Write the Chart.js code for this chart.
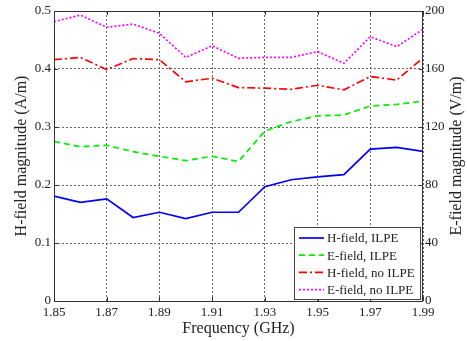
<!DOCTYPE html>
<html>
<head>
<meta charset="utf-8">
<script src="https://cdn.jsdelivr.net/npm/chart.js@4/dist/chart.umd.min.js"></script>
<style>
html,body{margin:0;padding:0;background:#fff;}
#wrap{width:467px;height:341px;position:relative;}
</style>
</head>
<body>
<div id="wrap"><canvas id="c" width="467" height="341"></canvas></div>
<script>
const freqs = [1.85,1.86,1.87,1.88,1.89,1.90,1.91,1.92,1.93,1.94,1.95,1.96,1.97,1.98,1.99];
const hIlpe = [0.181,0.170,0.176,0.144,0.153,0.142,0.153,0.153,0.197,0.209,0.214,0.218,0.262,0.265,0.258];
const eIlpe = [110,106.4,107.4,103,99.8,96.8,99.8,96.2,117.2,123.7,127.6,128.3,134.5,135.6,137.9];
const hNoIlpe = [0.416,0.420,0.399,0.418,0.416,0.378,0.384,0.368,0.367,0.365,0.372,0.364,0.387,0.381,0.419];
const eNoIlpe = [192.6,197.2,188.8,191,184.6,168,176,167.4,168,168,172,163.9,182.3,175.4,187.4];
const xTicks = [1.85,1.87,1.89,1.91,1.93,1.95,1.97,1.99];
const leftTicks = [0,0.1,0.2,0.3,0.4,0.5];
const rightTicks = [0,40,80,120,160,200];
const labels = ['H-field, ILPE','E-field, ILPE','H-field, no ILPE','E-field, no ILPE'];
const rightTitle = 'E-field magnitude (V/m)';

const pts = (ys) => freqs.map((f,i)=>({x:f,y:ys[i]}));
const FONT = 'Liberation Serif';
const TXT = '#222';

const styles = [
  {color:'#0000ff', dash:[], axis:'yL'},
  {color:'#00ee00', dash:[6,4], axis:'yR'},
  {color:'#ff0000', dash:[8,3,2,3], axis:'yL'},
  {color:'#ff00ff', dash:[2,2], axis:'yR'}
];
const series = [hIlpe,eIlpe,hNoIlpe,eNoIlpe];

const datasets = series.map((s,i)=>({
  label: labels[i],
  data: pts(s),
  borderColor: styles[i].color,
  backgroundColor: styles[i].color,
  borderDash: styles[i].dash,
  borderWidth: 1.7,
  pointRadius: 0,
  tension: 0,
  fill: false,
  yAxisID: styles[i].axis
}));

const framePlugin = {
  id:'frame',
  beforeDraw(chart){
    const ctx=chart.ctx; ctx.save(); ctx.fillStyle='#fff'; ctx.fillRect(0,0,chart.width,chart.height); ctx.restore();
  },
  afterDatasetsDraw(chart){
    const {ctx, chartArea:a} = chart;
    ctx.save();
    ctx.strokeStyle='#333'; ctx.lineWidth=1;
    ctx.strokeRect(a.left+0.5,a.top+0.5,a.right-a.left-1,a.bottom-a.top);
    const xs=chart.scales.x, yl=chart.scales.yL;
    ctx.beginPath();
    xTicks.forEach(t=>{const px=Math.round(xs.getPixelForValue(t))+0.5; ctx.moveTo(px,a.bottom); ctx.lineTo(px,a.bottom-4); ctx.moveTo(px,a.top); ctx.lineTo(px,a.top+4);});
    leftTicks.forEach(t=>{const py=Math.round(yl.getPixelForValue(t))+0.5; ctx.moveTo(a.left,py); ctx.lineTo(a.left+4,py); ctx.moveTo(a.right,py); ctx.lineTo(a.right-4,py);});
    ctx.stroke();
    // right axis title, reading bottom-to-top
    ctx.save();
    ctx.translate(457,(a.top+a.bottom)/2);
    ctx.rotate(-Math.PI/2);
    ctx.font='16px "'+FONT+'"'; ctx.fillStyle=TXT; ctx.textAlign='center'; ctx.textBaseline='middle';
    ctx.fillText(rightTitle,0,0);
    ctx.restore();
    // legend
    const w=126,h=72;
    const x0=a.right-3-w, y0=a.bottom-2-h;
    ctx.fillStyle='#fff'; ctx.fillRect(x0,y0,w,h);
    ctx.strokeStyle='#444'; ctx.strokeRect(x0+0.5,y0+0.5,w,h);
    ctx.font='13px "'+FONT+'"'; ctx.textBaseline='middle'; ctx.fillStyle=TXT;
    labels.forEach((lab,i)=>{
      const y=y0+11+i*17.2;
      ctx.beginPath(); ctx.setLineDash(styles[i].dash); ctx.strokeStyle=styles[i].color; ctx.lineWidth=1.7;
      ctx.moveTo(x0+5,y); ctx.lineTo(x0+30,y); ctx.stroke();
      ctx.setLineDash([]);
      ctx.fillStyle=TXT; ctx.fillText(lab,x0+33,y+1);
    });
    ctx.restore();
  }
};

new Chart(document.getElementById('c'),{
  type:'line',
  data:{datasets},
  plugins:[framePlugin],
  options:{
    responsive:false,
    animation:false,
    layout:{padding:{top:11,left:0,right:0,bottom:0}},
    plugins:{legend:{display:false},tooltip:{enabled:false}},
    scales:{
      x:{
        type:'linear', min:1.85, max:1.99,
        afterBuildTicks(s){ s.ticks = xTicks.map(v=>({value:v})); },
        afterFit(s){ s.height=40; },
        ticks:{color:TXT, font:{family:FONT,size:13}, padding:4, maxRotation:0, callback:v=>v.toFixed(2)},
        grid:{color:'#666', lineWidth:1, drawTicks:false},
        border:{display:false, dash:[2,2]},
        title:{display:true, text:'Frequency (GHz)', color:TXT, font:{family:FONT,size:16}, padding:{top:0,bottom:3}}
      },
      yL:{
        type:'linear', position:'left', min:0, max:0.5,
        afterBuildTicks(s){ s.ticks = leftTicks.map(v=>({value:v})); },
        afterFit(s){ s.width=54; },
        ticks:{color:TXT, font:{family:FONT,size:13}, padding:3, callback:v=>String(v)},
        grid:{color:'#666', lineWidth:1, drawTicks:false},
        border:{display:false, dash:[2,2]},
        title:{display:true, text:'H-field magnitude (A/m)', color:TXT, font:{family:FONT,size:16}, padding:{top:12,bottom:0}}
      },
      yR:{
        type:'linear', position:'right', min:0, max:200,
        afterBuildTicks(s){ s.ticks = rightTicks.map(v=>({value:v})); },
        afterFit(s){ s.width=44; },
        ticks:{color:TXT, font:{family:FONT,size:13}, padding:2, callback:v=>String(v)},
        grid:{display:false, drawTicks:false},
        border:{display:false},
        title:{display:false}
      }
    }
  }
});
</script>
</body>
</html>
